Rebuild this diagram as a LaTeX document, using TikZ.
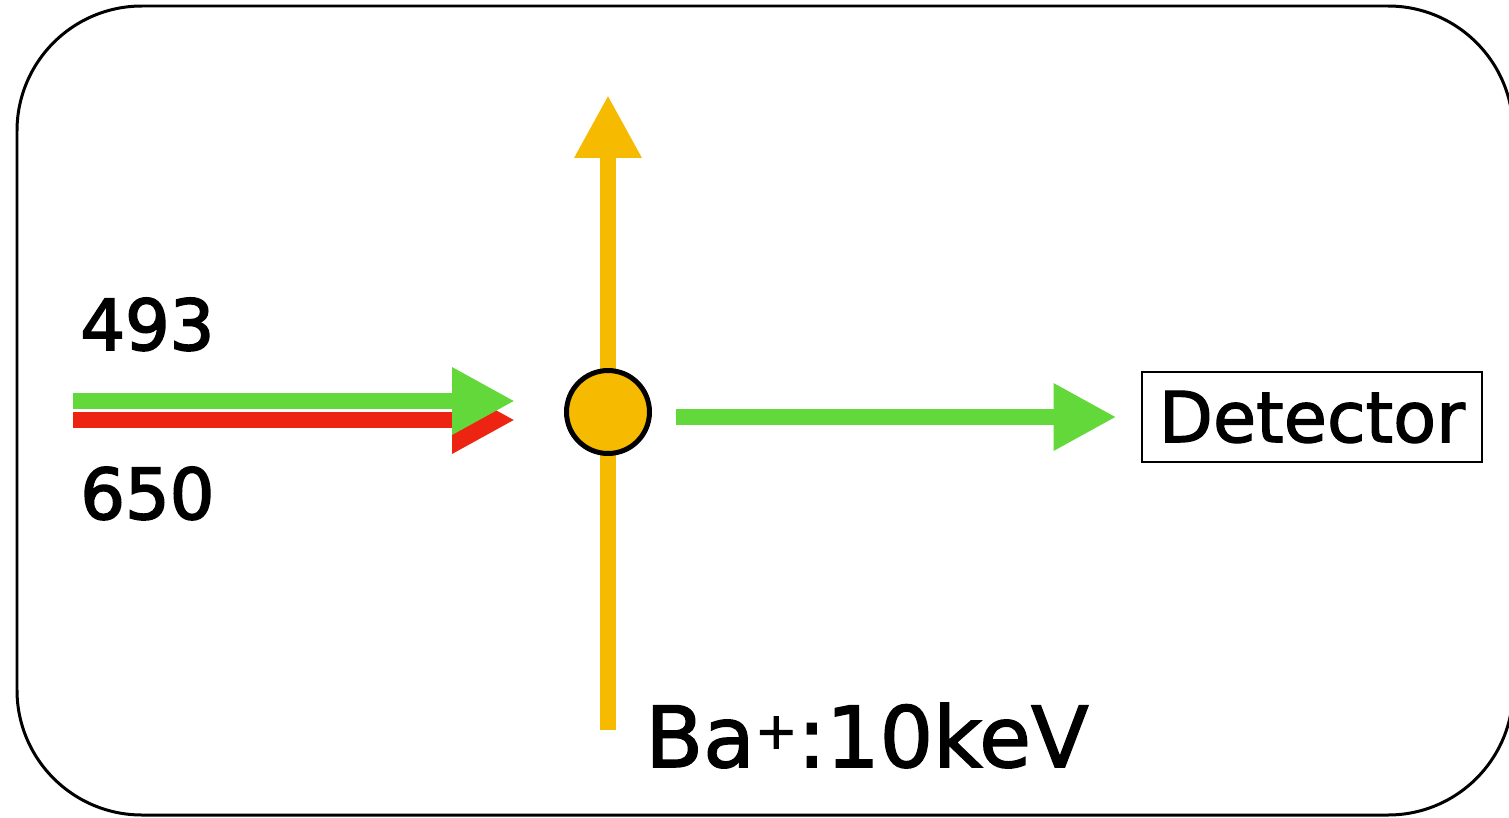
\documentclass[tikz,border=0pt]{standalone}
\usepackage{fontspec}
\setmainfont{DejaVu Sans}
\newfontfamily\heavyfont{DejaVu Sans}[FakeBold=2.5]
\newfontfamily\mediumfont{DejaVu Sans}[FakeBold=1.8]
\usetikzlibrary{arrows.meta}
\definecolor{laser493}{RGB}{98,216,58}
\definecolor{laser650}{RGB}{238,36,18}
\definecolor{ionbeam}{RGB}{246,186,0}

\begin{document}
\begin{tikzpicture}[x=0.02cm,y=-0.02cm,
  beam/.style={line width=0.32cm,-{Triangle[length=1.26cm,width=1.26cm]}},
  lbl/.style={anchor=base west,inner sep=0pt,font=\heavyfont\fontsize{40}{48}\selectfont}]
  \useasboundingbox (0,0) rectangle (1509,818);
  \draw[line width=0.06cm,rounded corners=2.5cm] (17,6) rectangle (1513,815);
  % ion beam and ion
  \coordinate (ionbot) at (608,730);
  \coordinate (iontop) at (608,95);
  \draw[beam,ionbeam] (ionbot) -- (iontop);
  \node[circle,draw,line width=0.1cm,fill=ionbeam,minimum size=1.66cm,inner sep=0pt] (ion) at (608,412) {};
  % lasers
  \coordinate (r0) at (73,420); \coordinate (r1) at (515,420);
  \coordinate (g0) at (73,401); \coordinate (g1) at (515,401);
  \draw[beam,laser650] (r0) -- (r1);
  \draw[beam,laser493] (g0) -- (g1);
  \node[lbl] (l493) at (80,350) {493};
  \node[lbl] (l650) at (80,519) {650};
  % detector
  \node[draw,line width=0.04cm,minimum width=6.82cm,minimum height=1.82cm,inner sep=0pt,
    font=\mediumfont\fontsize{40}{48}\selectfont] (det) at (1312,417) {Detector};
  \draw[beam,laser493,shorten <=0.48cm,shorten >=0.48cm] (ion.east |- det.west) -- (det.west);
  \node[lbl,font=\mediumfont\fontsize{48}{58}\selectfont] (energy) at (645,767)
    {Ba\raisebox{0.22em}{\fontsize{29}{30}\selectfont +}:10keV};
\end{tikzpicture}
\end{document}
